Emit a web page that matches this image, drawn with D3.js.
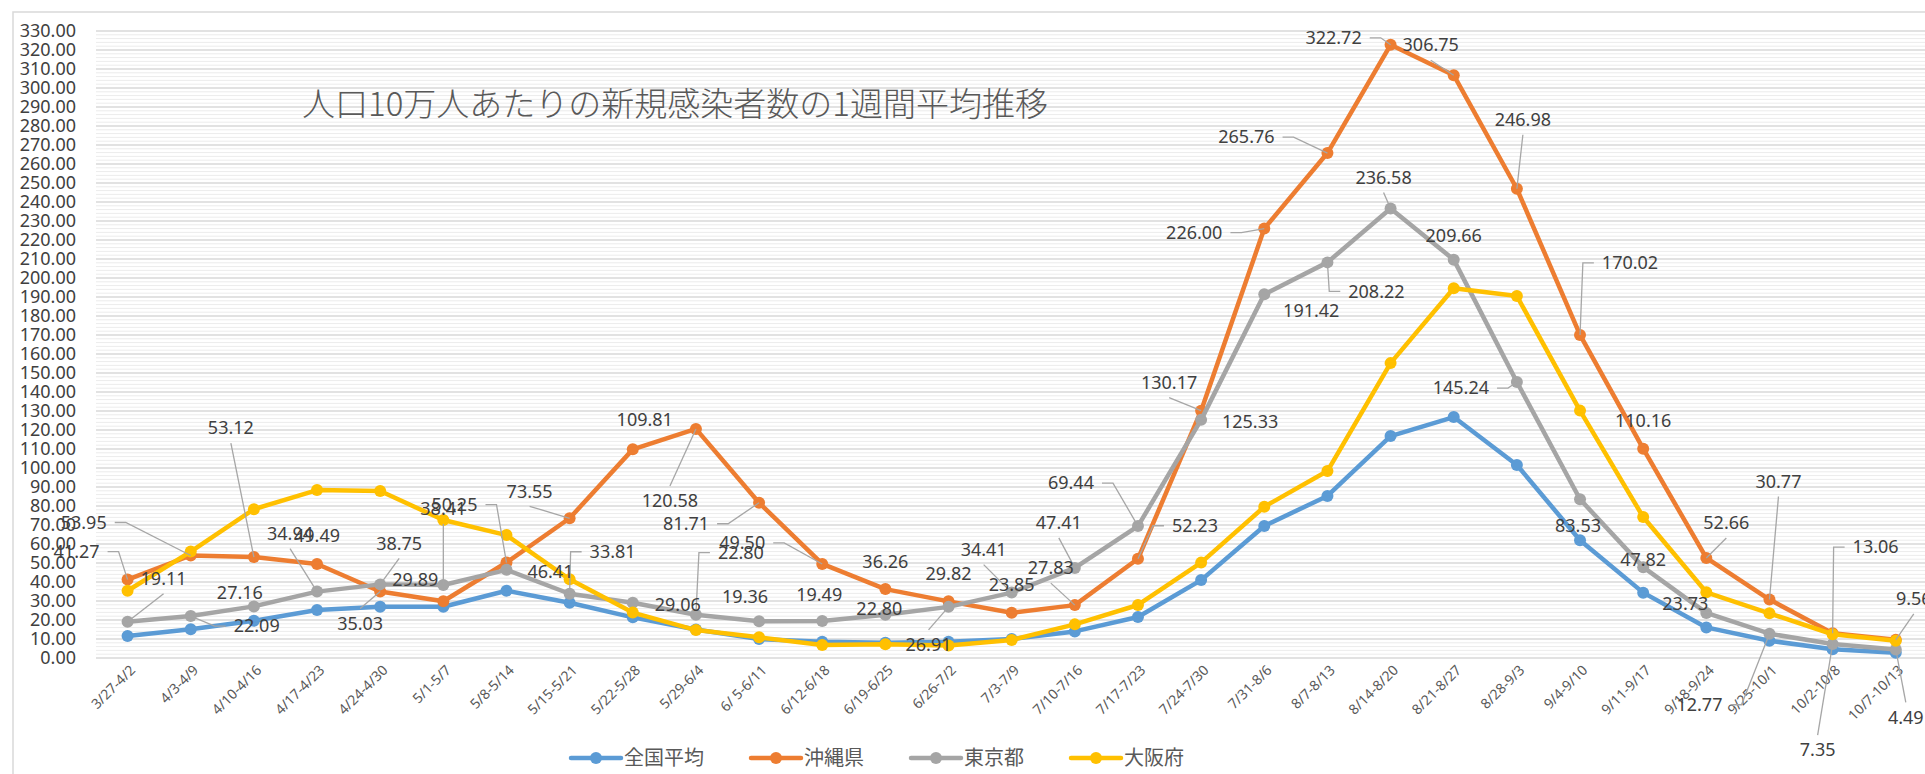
<!DOCTYPE html>
<html lang="ja">
<head>
<meta charset="UTF-8">
<title>人口10万人あたりの新規感染者数の1週間平均推移</title>
<script src="https://d3js.org/d3.v7.min.js"></script>
<style>
  body { margin: 0; background: #fff; }
  svg { display: block; }
</style>
</head>
<body>
<div id="chart"></div>
<script>
// ---- data ----
const weeks = ["3/27-4/2","4/3-4/9","4/10-4/16","4/17-4/23","4/24-4/30","5/1-5/7","5/8-5/14",
  "5/15-5/21","5/22-5/28","5/29-6/4","6/ 5-6/11","6/12-6/18","6/19-6/25","6/26-7/2","7/3-7/9",
  "7/10-7/16","7/17-7/23","7/24-7/30","7/31-8/6","8/7-8/13","8/14-8/20","8/21-8/27","8/28-9/3",
  "9/4-9/10","9/11-9/17","9/18-9/24","9/25-10/1","10/2-10/8","10/7-10/13"];

const zenkoku = [11.6, 15.1, 19.6, 25.3, 27.0, 27.0, 35.4, 29.1, 21.4, 15.0, 10.0, 8.5, 8.0, 8.5, 10.0,
  14.0, 21.6, 41.0, 69.5, 85.3, 116.8, 126.8, 101.6, 62.0, 34.4, 16.1, 9.1, 4.6, 2.8];
const okinawa = [41.27, 53.95, 53.12, 49.49, 35.03, 29.89, 50.25, 73.55, 109.81, 120.58, 81.71, 49.50,
  36.26, 29.82, 23.85, 27.83, 52.23, 130.17, 226.00, 265.76, 322.72, 306.75, 246.98, 170.02, 110.16,
  52.66, 30.77, 13.06, 9.56];
const tokyo = [19.11, 22.09, 27.16, 34.94, 38.75, 38.41, 46.41, 33.81, 29.06, 22.80, 19.36, 19.49,
  22.80, 26.91, 34.41, 47.41, 69.44, 125.33, 191.42, 208.22, 236.58, 209.66, 145.24, 83.53, 47.82,
  23.73, 12.77, 7.35, 4.49];
const osaka = [35.4, 56.0, 78.3, 88.4, 87.9, 72.6, 64.7, 41.4, 23.9, 14.7, 10.9, 6.8, 7.2, 6.6, 9.5,
  17.7, 27.9, 50.2, 79.6, 98.4, 155.2, 194.6, 190.5, 130.2, 74.2, 34.6, 23.5, 12.5, 9.1];

const seriesNames = ["全国平均", "沖縄県", "東京都", "大阪府"];
const yTicks = d3.range(0, 331, 10);

// ---- layout / style ----
const W = 1925, H = 774;
const plotLeft = 96, plotTop = 31, plotBottom = 658, step = 63.15;
const colors = ["#5B9BD5", "#ED7D31", "#A5A5A5", "#FFC000"];
const numFont = '"Noto Sans", sans-serif';
const jpFont = '"Noto Sans CJK JP", sans-serif';

// data label placement: [dx, dy, leader] offset from the point in px
// leader: 0 none, 1 side stub, 2 straight from top/bottom
const okinawaLabelPos = [[-51,-28,1],[-107,-33,1],[-23,-129,2],[0,-28,0],[-20,32,2],[-28,-22,0],
  [-52,-58,1],[-40,-27,2],[12,-30,0],[-26,72,2],[-73,21,1],[-80,-21,1],[0,-27,0],[0,-28,0],[0,-28,0],
  [-24,-37,2],[57,-33,1],[-32,-28,2],[-70,4,1],[-81,-16,1],[-57,-7,1],[-23,-30,2],[6,-69,2],[50,-72,1],
  [0,-28,0],[20,-35,2],[9,-118,2],[43,-86,1],[18,-41,2]];
const tokyoLabelPos = [[36,-43,2],[66,10,1],[-14,-14,0],[-27,-58,2],[19,-41,2],[0,-76,2],[44,2,0],
  [43,-42,1],[45,2,0],[45,-62,1],[-14,-25,0],[-3,-26,0],[-6,-6,0],[-20,38,2],[-28,-43,2],[-16,-45,2],
  [-67,-43,1],[49,2,0],[47,16,0],[49,29,1],[-7,-31,2],[0,-24,0],[-56,6,1],[-2,26,0],[0,-7,0],[-21,-9,0],
  [-70,71,1],[-15,106,2],[10,68,2]];

const series = [zenkoku, okinawa, tokyo, osaka].map((values, i) => ({
  name: seriesNames[i], values, color: colors[i]
}));

const svg = d3.select("#chart").append("svg")
  .attr("width", W)
  .attr("height", H);

// chart area border (runs off the right / bottom edge)
svg.append("rect")
  .attr("x", 13).attr("y", 12)
  .attr("width", W).attr("height", H)
  .attr("fill", "#fff")
  .attr("stroke", "#d9d9d9")
  .attr("stroke-width", 1.5);

const x = d3.scalePoint()
  .domain(weeks)
  .range([plotLeft, plotLeft + weeks.length * step])
  .padding(0.5);

const y = d3.scaleLinear()
  .domain([0, 330])
  .range([plotBottom, plotTop]);

// gridlines: minor every 2, major every 10
const grid = svg.append("g");
grid.selectAll(".minor")
  .data(d3.range(0, 331, 2).filter(v => v % 10 !== 0))
  .join("line")
  .attr("class", "minor")
  .attr("x1", plotLeft).attr("x2", W)
  .attr("y1", d => y(d)).attr("y2", d => y(d))
  .attr("stroke", "#ececec")
  .attr("stroke-width", 1);
grid.selectAll(".major")
  .data(yTicks)
  .join("line")
  .attr("class", "major")
  .attr("x1", plotLeft).attr("x2", W)
  .attr("y1", d => y(d)).attr("y2", d => y(d))
  .attr("stroke", "#d9d9d9")
  .attr("stroke-width", 1.5);

// y axis
const yAxis = svg.append("g")
  .attr("transform", `translate(${plotLeft},0)`)
  .call(d3.axisLeft(y).tickValues(yTicks).tickFormat(d3.format(".2f")).tickSize(0).tickPadding(20));
yAxis.select(".domain").remove();
yAxis.selectAll("text")
  .attr("font-family", numFont)
  .attr("font-size", 18)
  .attr("fill", "#404040");

// x axis
const xAxis = svg.append("g")
  .attr("transform", `translate(0,${plotBottom})`)
  .call(d3.axisBottom(x).tickSize(0));
xAxis.select(".domain").remove();
xAxis.selectAll("text")
  .attr("y", 0)
  .attr("dy", null)
  .attr("text-anchor", "end")
  .attr("transform", "translate(8,13) rotate(-45)")
  .attr("font-family", numFont)
  .attr("font-size", 14)
  .attr("fill", "#595959");

// lines + markers
const line = d3.line()
  .x((d, i) => x(weeks[i]))
  .y(d => y(d));

series.forEach(s => {
  const g = svg.append("g");
  g.append("path")
    .datum(s.values)
    .attr("fill", "none")
    .attr("stroke", s.color)
    .attr("stroke-width", 4.5)
    .attr("stroke-linejoin", "round")
    .attr("d", line);
  g.selectAll("circle")
    .data(s.values)
    .join("circle")
    .attr("cx", (d, i) => x(weeks[i]))
    .attr("cy", d => y(d))
    .attr("r", 6)
    .attr("fill", s.color);
});

// data labels with leader lines
const leaders = svg.append("g")
  .attr("fill", "none")
  .attr("stroke", "#a6a6a6")
  .attr("stroke-width", 1.3);
const labels = svg.append("g");

function drawLabels(values, pos) {
  values.forEach((v, i) => {
    const px = x(weeks[i]), py = y(v);
    const [dx, dy, lead] = pos[i];
    const cx = px + dx, cy = py + dy;
    const t = labels.append("text")
      .attr("x", cx).attr("y", cy)
      .attr("dy", "0.35em")
      .attr("text-anchor", "middle")
      .attr("font-family", numFont)
      .attr("font-size", 18)
      .attr("fill", "#404040")
      .text(v.toFixed(2));
    const hw = t.node().getComputedTextLength() / 2;
    if (lead === 1) {
      const sgn = dx < 0 ? 1 : -1;
      const x0 = cx + sgn * (hw + 8), x1 = cx + sgn * (hw + 19);
      leaders.append("polyline").attr("points", `${x0},${cy} ${x1},${cy} ${px},${py}`);
    } else if (lead === 2) {
      const y0 = cy + (dy < 0 ? 15 : -15);
      leaders.append("line")
        .attr("x1", cx).attr("y1", y0)
        .attr("x2", px).attr("y2", py);
    }
  });
}
drawLabels(okinawa, okinawaLabelPos);
drawLabels(tokyo, tokyoLabelPos);

// title
svg.append("text")
  .attr("x", 302).attr("y", 116)
  .attr("font-family", jpFont)
  .attr("font-weight", 300)
  .attr("font-size", 33)
  .attr("fill", "#595959")
  .text("人口10万人あたりの新規感染者数の1週間平均推移");

// legend
const legend = svg.append("g").attr("transform", "translate(571,758)");
let lx = 0;
series.forEach(s => {
  const item = legend.append("g").attr("transform", `translate(${lx},0)`);
  item.append("line")
    .attr("x1", 0).attr("x2", 50)
    .attr("stroke", s.color)
    .attr("stroke-width", 4.5)
    .attr("stroke-linecap", "round");
  item.append("circle").attr("cx", 25).attr("r", 6).attr("fill", s.color);
  const t = item.append("text")
    .attr("x", 53)
    .attr("dy", "0.35em")
    .attr("font-family", jpFont)
    .attr("font-size", 20)
    .attr("fill", "#595959")
    .text(s.name);
  lx += 53 + t.node().getComputedTextLength() + 47;
});
</script>
</body>
</html>
